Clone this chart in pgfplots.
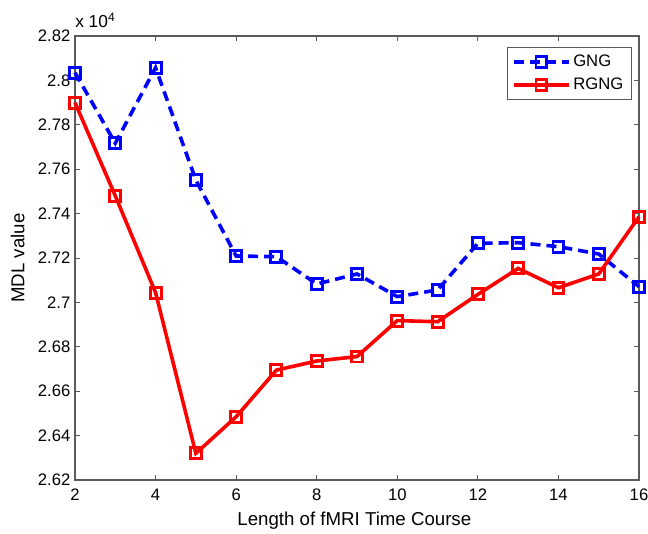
\documentclass[border=0pt]{standalone}
\usepackage{fontspec}
\setmainfont{Liberation Sans}
\usepackage{pgfplots}
\pgfplotsset{compat=1.18}
\definecolor{gngblue}{RGB}{0,0,255}
\definecolor{rgngred}{RGB}{255,0,0}
\definecolor{framegray}{RGB}{90,90,90}

\begin{document}
\begin{tikzpicture}
\begin{axis}[
  scale only axis,
  width=423pt,
  height=333pt,
  clip=false,
  xmin=2, xmax=16,
  ymin=2.62, ymax=2.82,
  xtick={2,4,...,16},
  ytick={2.62,2.64,...,2.82},
  yticklabel style={/pgf/number format/fixed,/pgf/number format/precision=2},
  xticklabel style={yshift=-3pt},
  /pgf/number format/assume math mode=true,
  tick align=inside,
  major tick length=3.75pt,
  axis line style={framegray, line width=0.8pt},
  tick style={framegray, line width=0.6pt},
  font=\fontsize{12.5}{14}\selectfont,
  legend style={at={(0.987,0.976)}, anchor=north east, draw=framegray,
    line width=0.6pt, font=\fontsize{12.5}{14}\selectfont,
    row sep=3pt, inner xsep=4pt, inner ysep=4pt},
  legend cell align=left,
  legend image code/.code={%
    \draw[mark repeat=2,mark phase=2] plot coordinates {(0cm,0cm) (0.72cm,0cm) (1.44cm,0cm)};},
]
\addplot[gngblue, line width=2.7pt, dash pattern=on 7.5pt off 4.5pt,
  mark=square, mark size=4.1pt, mark options={solid, fill=white, line width=2.2pt}]
  coordinates {
  (2,2.8035) (3,2.7717) (4,2.8057) (5,2.7551) (6,2.7209) (7,2.7206)
  (8,2.7083) (9,2.7128) (10,2.7026) (11,2.7056) (12,2.7266) (13,2.7269)
  (14,2.7251) (15,2.7218) (16,2.7071)};
\addlegendentry{GNG}
\addplot[rgngred, line width=2.7pt,
  mark=square, mark size=4.1pt, mark options={solid, fill=white, line width=2.2pt}]
  coordinates {
  (2,2.7900) (3,2.7480) (4,2.7044) (5,2.6320) (6,2.6485) (7,2.6695)
  (8,2.6736) (9,2.6756) (10,2.6918) (11,2.6913) (12,2.7036) (13,2.7153)
  (14,2.7066) (15,2.7128) (16,2.7386)};
\addlegendentry{RGNG}
\node[anchor=south west, inner sep=0pt, yshift=6pt, font=\fontsize{13}{14}\selectfont]
  at (rel axis cs:0,1) {x 10\textsuperscript{4}};
\end{axis}
\node[rotate=90, anchor=center, font=\fontsize{14}{16}\selectfont]
  at ([xshift=-43pt]current axis.west) {MDL value};
\node[anchor=base, font=\fontsize{14}{16}\selectfont]
  at ([xshift=-2pt,yshift=-34pt]current axis.south) {Length of fMRI Time Course};
\pgfresetboundingbox
\path (current axis.south west) ++(-56.25pt,-40.5pt) coordinate (bl);
\path (current axis.north east) ++(6.75pt,27pt) coordinate (tr);
\path (bl) rectangle (tr);
\end{tikzpicture}
\end{document}
